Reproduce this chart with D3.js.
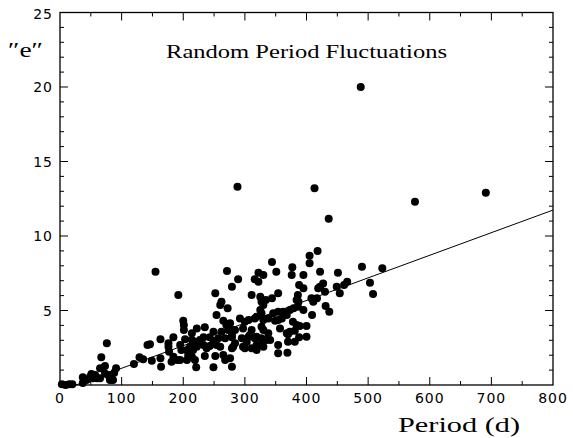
<!DOCTYPE html>
<html>
<head>
<meta charset="utf-8">
<script src="https://cdn.jsdelivr.net/npm/d3@7"></script>
<style>
  html, body { margin: 0; padding: 0; background: #fff; }
  svg { display: block; }
</style>
</head>
<body>
<svg id="chart" width="573" height="438"></svg>
<script>
// ---- data ----
const period = [
  3,9,15,20,37,43,37,51,49,54,57,45,65,65,73,76,67,73,81,84,91,78,86,88,60,
  120,129,135,142,146,149,163,163,164,184,176,177,184,190,181,176,155,192,
  200,201,201,214,214,219,222,206,208,219,221,195,203,211,216,206,214,197,195,222,
  233,243,249,257,233,238,243,260,235,252,249,235,254,252,262,260,265,270,273,262,249,268,279,265,268,254,227,272,
  271,289,279,292,306,316,281,297,311,279,284,295,306,316,279,300,276,279,311,322,316,300,276,284,303,281,297,311,319,308,
  322,330,344,351,325,334,344,327,354,330,325,319,330,338,346,354,360,368,373,379,362,327,354,349,327,330,319,319,335,354,369,327,338,341,325,330,
  357,368,373,384,381,388,370,381,354,386,388,376,377,395,395,387,386,395,378,389,400,370,400,384,
  405,418,405,422,451,419,427,408,411,417,431,437,409,454,461,449,430,422,
  466,490,503,508,523,
  488,288,413,436,576,691
];
const ecc = [
  0.05,0.0,0.05,0.05,0.13,0.34,0.52,0.74,0.56,0.45,0.67,0.4,0.45,1.12,1.27,2.8,1.86,0.78,0.34,0.67,1.12,0.67,0.34,0.82,0.45,
  1.41,1.86,1.72,2.68,2.73,1.63,3.07,1.79,1.23,3.2,2.57,2.23,1.9,1.68,1.56,2.8,7.6,6.04,
  4.31,4.03,3.69,3.02,3.47,2.9,2.57,2.35,2.01,1.68,1.19,2.68,3.07,2.57,2.35,1.68,1.9,2.35,1.68,3.8,
  3.2,3.2,2.97,3.13,2.68,2.46,2.62,2.57,1.95,1.95,1.19,3.87,4.7,6.15,5.59,5.37,4.31,4.03,3.69,3.58,3.58,3.13,3.36,2.01,1.68,2.68,3.02,5.15,
  7.65,7.09,6.6,4.47,4.36,4.47,3.69,3.8,3.69,3.2,2.8,3.13,3.24,3.13,2.46,2.46,1.79,1.23,6.04,6.93,7.09,4.25,4.14,3.69,2.9,2.57,2.57,2.46,2.35,3.36,
  7.53,7.38,8.25,7.6,5.92,5.7,5.82,5.59,6.15,5.37,5.03,4.58,4.36,4.47,4.81,4.92,4.47,4.7,5.03,5.15,4.92,4.81,4.36,4.31,3.91,3.69,3.24,2.68,3.02,2.68,2.17,3.13,3.47,3.02,2.68,2.57,
  3.8,3.47,3.58,4.03,3.64,3.2,2.9,2.9,2.13,6.04,6.71,7.38,7.9,7.38,6.49,5.59,5.25,5.03,4.25,3.96,3.96,3.4,3.24,5.7,
  8.68,9.0,8.17,7.6,7.53,6.49,6.82,5.82,5.59,5.82,5.3,4.92,4.7,6.15,6.71,6.6,6.26,6.6,
  6.93,7.94,6.86,6.1,7.83,
  20.0,13.3,13.2,11.15,12.3,12.9
];
const fitX = [26, 800];
const fitY = [0, 11.74];
const xTickLabels = [0,100,200,300,400,500,600,700,800];
const yTickLabels = [5,10,15,20,25];
const titleText = "Random Period Fluctuations";
const xLabel = "Period (d)";
const yLabel = "\u2033e\u2033";

// ---- layout ----
const svg = d3.select("#chart");
const L = 60, R = 553, T = 12.5, B = 385;
const x = d3.scaleLinear().domain([0, 800]).range([L, R]);
const y = d3.scaleLinear().domain([0, 25]).range([B, T]);

const numFont = "'DejaVu Sans', sans-serif";
const serifFont = "'Liberation Serif', 'DejaVu Serif', serif";

// frame
svg.append("rect").attr("x", L).attr("y", T).attr("width", R - L).attr("height", B - T)
  .attr("fill", "none").attr("stroke", "#000").attr("stroke-width", 1.3);

// ticks
const g = svg.append("g").attr("stroke", "#000").attr("stroke-width", 1);
d3.range(0, 801, 50).forEach(v => {
  const len = v % 100 === 0 ? 8 : 4;
  if (v === 0 || v === 800) return;
  g.append("line").attr("x1", x(v)).attr("x2", x(v)).attr("y1", B).attr("y2", B - len);
  g.append("line").attr("x1", x(v)).attr("x2", x(v)).attr("y1", T).attr("y2", T + len);
});
d3.range(0, 26, 1).forEach(v => {
  const len = v % 5 === 0 ? 8 : 4;
  if (v === 0 || v === 25) return;
  g.append("line").attr("y1", y(v)).attr("y2", y(v)).attr("x1", L).attr("x2", L + len);
  g.append("line").attr("y1", y(v)).attr("y2", y(v)).attr("x1", R).attr("x2", R - len);
});

// tick labels
svg.append("g").selectAll("text").data(xTickLabels).join("text")
  .attr("x", d => x(d)).attr("y", 403)
  .attr("text-anchor", "middle")
  .attr("font-family", numFont).attr("font-size", 14).attr("letter-spacing", 1)
  .text(d => d);
svg.append("g").selectAll("text").data(yTickLabels).join("text")
  .attr("x", 53).attr("y", d => Math.max(y(d), 14) + 5)
  .attr("text-anchor", "end")
  .attr("font-family", numFont).attr("font-size", 14).attr("letter-spacing", 1)
  .text(d => d);

// fit line
svg.append("line")
  .attr("x1", x(fitX[0])).attr("y1", y(fitY[0]))
  .attr("x2", x(fitX[1])).attr("y2", y(fitY[1]))
  .attr("stroke", "#000").attr("stroke-width", 1);

// points
svg.append("g").selectAll("circle").data(period.map((p, i) => [p, ecc[i]])).join("circle")
  .attr("cx", d => x(d[0])).attr("cy", d => y(d[1])).attr("r", 4)
  .attr("fill", "#000");

// title and labels
svg.append("text").attr("x", 166).attr("y", 58)
  .attr("font-family", serifFont).attr("font-size", 18)
  .attr("textLength", 281).attr("lengthAdjust", "spacingAndGlyphs")
  .text(titleText);
svg.append("text").attr("x", 398).attr("y", 432)
  .attr("font-family", serifFont).attr("font-size", 21)
  .attr("textLength", 122).attr("lengthAdjust", "spacingAndGlyphs")
  .text(xLabel);
svg.append("text").attr("x", 8).attr("y", 57)
  .attr("font-family", serifFont).attr("font-size", 20)
  .attr("textLength", 35).attr("lengthAdjust", "spacingAndGlyphs")
  .text(yLabel);
</script>
</body>
</html>
